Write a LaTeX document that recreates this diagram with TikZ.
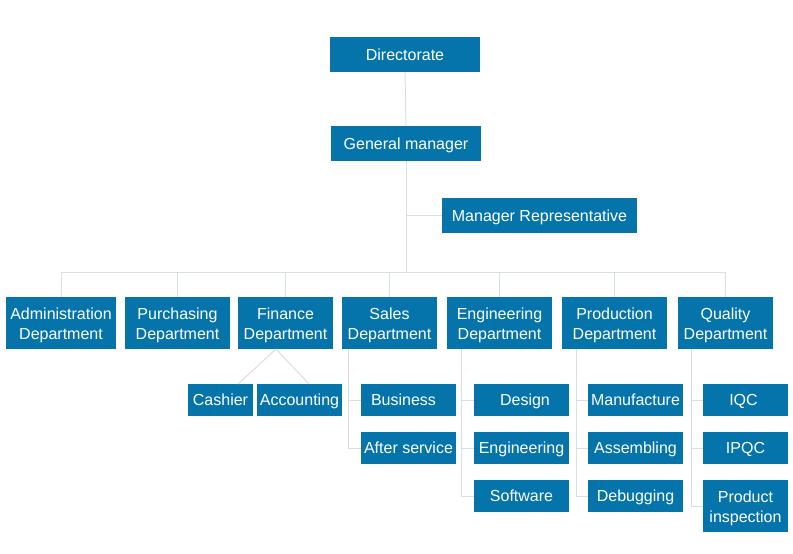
\documentclass[tikz,border=0pt]{standalone}
\usepackage{fontspec}
\setmainfont{Liberation Sans}
\definecolor{boxblue}{HTML}{0574AB}
\definecolor{linegray}{HTML}{D6DFE4}
\newcommand{\toppad}{\rule{0pt}{15.7pt}}
\tikzset{
  box/.style={fill=boxblue, text=white, inner sep=0pt, align=center,
    font=\fontsize{16}{20}\selectfont},
  one/.style={text height=15.5pt, text depth=4pt},
  conn/.style={draw=linegray, line width=1pt}
}
\begin{document}
\begin{tikzpicture}[x=1pt,y=-1pt]
\useasboundingbox (0,0) rectangle (793,554);
% top
\node[box, one, minimum width=150pt, minimum height=35pt] (dir) at (405,54.5) {Directorate};
\node[box, one, minimum width=150pt, minimum height=35pt] (gm) at (406,143.5) {General manager};
\node[box, one, minimum width=195pt, minimum height=35pt] (mr) at (539.5,215.5) {Manager Representative};
% departments
\node[box, minimum width=110pt, minimum height=52pt] (adm) at (61,323) {\toppad Administration\\Department};
\node[box, minimum width=105pt, minimum height=52pt] (pur) at (177.5,323) {\toppad Purchasing\\Department};
\node[box, minimum width=95pt, minimum height=52pt] (fin) at (285.5,323) {\toppad Finance\\Department};
\node[box, minimum width=95pt, minimum height=52pt] (sal) at (389.5,323) {\toppad Sales\\Department};
\node[box, minimum width=105pt, minimum height=52pt] (eng) at (499.5,323) {\toppad Engineering\\Department};
\node[box, minimum width=105pt, minimum height=52pt] (pro) at (614.5,323) {\toppad Production\\Department};
\node[box, minimum width=95pt, minimum height=52pt] (qua) at (725.5,323) {\toppad Quality\\Department};
% sub units
\node[box, one, minimum width=65pt, minimum height=32pt] (cas) at (220.5,400) {Cashier};
\node[box, one, minimum width=85pt, minimum height=32pt] (acc) at (299.5,400) {Accounting};
\node[box, one, minimum width=95pt, minimum height=32pt] (bus) at (408.5,400) {Business\hspace{10pt}};
\node[box, one, minimum width=95pt, minimum height=32pt] (aft) at (408.5,448) {After service};
\node[box, one, minimum width=95pt, minimum height=32pt] (des) at (521.5,400) {\hspace{7pt}Design};
\node[box, one, minimum width=95pt, minimum height=32pt] (engs) at (521.5,448) {Engineering};
\node[box, one, minimum width=95pt, minimum height=32pt] (sof) at (521.5,496) {Software};
\node[box, one, minimum width=95pt, minimum height=32pt] (man) at (635.5,400) {Manufacture};
\node[box, one, minimum width=95pt, minimum height=32pt] (ass) at (635.5,448) {Assembling};
\node[box, one, minimum width=95pt, minimum height=32pt] (deb) at (635.5,496) {Debugging};
\node[box, one, minimum width=85pt, minimum height=32pt] (iqc) at (745.5,400) {IQC\hspace{4pt}};
\node[box, one, minimum width=85pt, minimum height=32pt] (ipqc) at (745.5,448) {IPQC};
\node[box, minimum width=85pt, minimum height=52pt] (pin) at (745.5,506) {\toppad Product\\inspection};
% coordinates
\coordinate (hub) at (406,272);
\coordinate (mrj) at (406,215.5);
\coordinate (finj) at (276,349);
\coordinate (casj) at (238,384);
\coordinate (accj) at (309,384);
\coordinate (salj) at (348,349);
\coordinate (engj) at (461,349);
\coordinate (proj) at (576,349);
\coordinate (quaj) at (691,349);
% connectors
\draw[conn] (dir.south) -- (gm.north);
\draw[conn] (gm.south) -- (hub);
\draw[conn] (mrj) -- (mr.west);
\draw[conn] (adm.north |- hub) -- (qua.north |- hub);
\foreach \d in {adm,pur,fin,sal,eng,pro,qua}
  \draw[conn] (\d.north |- hub) -- (\d.north);
\draw[conn] (finj) -- (casj);
\draw[conn] (finj) -- (accj);
\draw[conn] (salj) |- (bus.west);
\draw[conn] (salj) |- (aft.west);
\draw[conn] (engj) |- (des.west);
\draw[conn] (engj) |- (engs.west);
\draw[conn] (engj) |- (sof.west);
\draw[conn] (proj) |- (man.west);
\draw[conn] (proj) |- (ass.west);
\draw[conn] (proj) |- (deb.west);
\draw[conn] (quaj) |- (iqc.west);
\draw[conn] (quaj) |- (ipqc.west);
\draw[conn] (quaj) |- (pin.west);
\end{tikzpicture}
\end{document}
